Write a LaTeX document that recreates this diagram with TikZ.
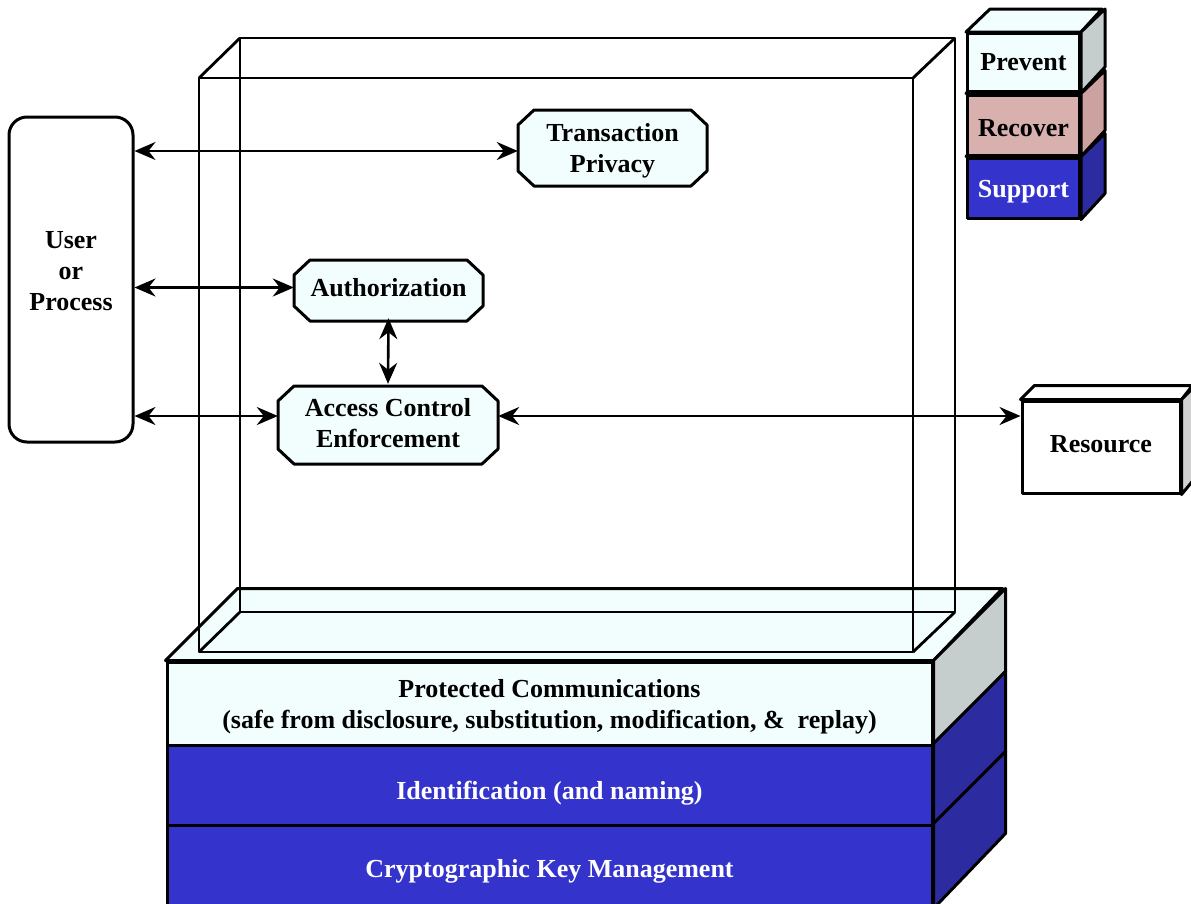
\documentclass[tikz,border=0pt]{standalone}
\usepackage{fontspec}
\setmainfont{Liberation Serif}
\usetikzlibrary{arrows.meta,calc}
\definecolor{lcyan}{HTML}{F2FEFE}
\definecolor{sblue}{HTML}{3434CC}
\definecolor{dblue}{HTML}{2C2CA0}
\definecolor{sgray}{HTML}{C6CDCD}
\definecolor{rpink}{HTML}{D8B0AE}
\definecolor{rside}{HTML}{CBA2A0}
\definecolor{rgray}{HTML}{D2D2D2}
\newcommand\lowr[2]{\raisebox{#1}[\height][\depth]{#2}}
% octagon: name, cx, cy, w, h, text y-offset, text
\newcommand\octnode[7]{%
  \filldraw[octline] ({#2-#4/2+16},{#3-#5/2}) -- ({#2+#4/2-16},{#3-#5/2}) -- ({#2+#4/2},{#3-#5/2+15})
    -- ({#2+#4/2},{#3+#5/2-15}) -- ({#2+#4/2-16},{#3+#5/2}) -- ({#2-#4/2+16},{#3+#5/2})
    -- ({#2-#4/2},{#3+#5/2-15}) -- ({#2-#4/2},{#3-#5/2+15}) -- cycle;
  \node[inner sep=0pt,minimum width=#4pt,minimum height=#5pt] (#1) at (#2,{#3+#6}) {#7};}
\begin{document}
\begin{tikzpicture}[x=1pt,y=-1pt,line join=round,
  every node/.style={font=\fontsize{26}{31}\selectfont\bfseries,align=center},
  face/.style={draw,line width=3pt,inner sep=0pt},
  side/.style={draw,line width=3pt},
  glass/.style={draw,line width=2.8pt},
  octline/.style={draw,line width=3pt,fill=lcyan},
  dbl/.style={{Stealth[length=21pt,width=18pt,inset=7pt]}-{Stealth[length=21pt,width=18pt,inset=7pt]},line width=2.6pt}]
\useasboundingbox (0,0) rectangle (1191,903);
\fill[white] (0,0) rectangle (1191,903);

% base box
\node[face,fill=lcyan,minimum width=765pt,minimum height=83pt] (pc) at (549.5,703.5)
  {\lowr{-3pt}{\begin{tabular}{@{}c@{}}Protected Communications\\(safe from disclosure, substitution, modification, \&\ \ replay)\end{tabular}}};
\node[face,fill=sblue,text=white,minimum width=765pt,minimum height=80pt] (idn) at (549.5,785) {\lowr{-8pt}{Identification (and naming)}};
\node[face,fill=sblue,text=white,minimum width=765pt,minimum height=82pt] (ckm) at (549.5,866) {\lowr{-5pt}{Cryptographic Key Management}};
\filldraw[side,fill=lcyan] (pc.north west) -- ++(72,-72) -- ++(765,0) -- (pc.north east) -- cycle;
\filldraw[side,fill=sgray] (pc.north east) -- ++(72,-72) -- ++(0,83) -- (pc.south east) -- cycle;
\filldraw[side,fill=dblue] (idn.north east) -- ++(72,-72) -- ++(0,80) -- (idn.south east) -- cycle;
\filldraw[side,fill=dblue] (ckm.north east) -- ++(72,-72) -- ++(0,82) -- (ckm.south east) -- cycle;

% glass box
\draw[glass] (240,38) rectangle (955,612);
\draw[glass] (199,78) rectangle (913,652);
\draw[glass] (199,78)--(240,38) (913,78)--(955,38) (199,652)--(240,612) (913,652)--(955,612);

% legend stack
\node[face,fill=sblue,text=white,minimum width=112pt,minimum height=60pt] (supp) at (1023.5,188) {\lowr{-4pt}{Support}};
\filldraw[side,fill=sblue] (supp.north west) -- ++(24,-23) -- ++(112,0) -- (supp.north east) -- cycle;
\filldraw[side,fill=dblue] (supp.north east) -- ++(24,-23) -- ++(0,60) -- (supp.south east) -- cycle;
\node[face,fill=rpink,minimum width=112pt,minimum height=60pt] (recv) at (1023.5,125) {\lowr{-3pt}{Recover}};
\filldraw[side,fill=rpink] (recv.north west) -- ++(24,-23) -- ++(112,0) -- (recv.north east) -- cycle;
\filldraw[side,fill=rside] (recv.north east) -- ++(24,-23) -- ++(0,60) -- (recv.south east) -- cycle;
\node[face,fill=lcyan,minimum width=112pt,minimum height=58pt] (prev) at (1023.5,62.5) {Prevent};
\filldraw[side,fill=lcyan] (prev.north west) -- ++(24,-23) -- ++(112,0) -- (prev.north east) -- cycle;
\filldraw[side,fill=sgray] (prev.north east) -- ++(24,-23) -- ++(0,58) -- (prev.south east) -- cycle;

% resource
\node[face,fill=white,minimum width=158pt,minimum height=92pt] (res) at (1101,447) {\lowr{3pt}{Resource}};
\filldraw[side,fill=white] (res.north west) -- ++(14,-14) -- ++(158,0) -- (res.north east) -- cycle;
\filldraw[side,fill=rgray] (res.north east) -- ++(14,-14) -- ++(0,92) -- (res.south east) -- cycle;

% user
\node[draw,line width=3pt,rounded corners=18pt,fill=white,minimum width=124pt,minimum height=325pt] (user) at (71,279.5) {};
\node (utext) at (71,271) {User\\or\\Process};

% octagons
\octnode{tp}{612.5}{148}{189}{76}{3}{Transaction\\Privacy}
\octnode{auth}{388.5}{290.5}{189}{61}{-3}{Authorization}
\octnode{ace}{388}{425}{220}{78}{-2}{Access Control\\Enforcement}

\coordinate (aceL) at ($(ace.west)+(0,-7)$);
\coordinate (aceR) at ($(ace.east)+(0,-7)$);

\draw[dbl] (user.east |- tp.west) -- (tp.west);
\draw[dbl] (user.east |- auth.west) -- (auth.west);
\draw[dbl] (user.east |- aceL) -- (aceL);
\draw[dbl] (auth.south) -- (ace.north);
\draw[dbl] (aceR) -- (res.west |- aceR);
\end{tikzpicture}
\end{document}
